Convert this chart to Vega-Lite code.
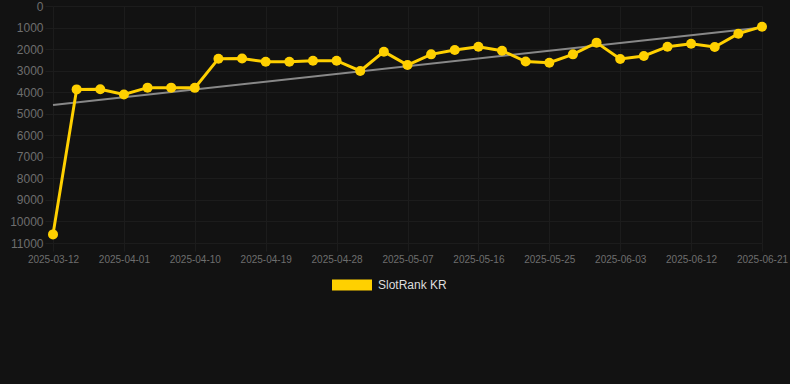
{
  "$schema": "https://vega.github.io/schema/vega-lite/v6.json",
  "autosize": {"type": "none"},
  "width": 709,
  "height": 237,
  "padding": {"left": 53, "top": 6, "right": 28, "bottom": 141},
  "background": "#121212",
  "config": {
    "view": {"stroke": null},
    "font": "Liberation Sans"
  },
  "datasets": {
    "main": [
      {"date": "2025-03-12", "rank": 10600, "series": "SlotRank KR"},
      {"date": "2025-03-26", "rank": 3870, "series": "SlotRank KR"},
      {"date": "2025-03-29", "rank": 3860, "series": "SlotRank KR"},
      {"date": "2025-04-01", "rank": 4110, "series": "SlotRank KR"},
      {"date": "2025-04-04", "rank": 3790, "series": "SlotRank KR"},
      {"date": "2025-04-07", "rank": 3790, "series": "SlotRank KR"},
      {"date": "2025-04-10", "rank": 3800, "series": "SlotRank KR"},
      {"date": "2025-04-13", "rank": 2445, "series": "SlotRank KR"},
      {"date": "2025-04-16", "rank": 2440, "series": "SlotRank KR"},
      {"date": "2025-04-19", "rank": 2585, "series": "SlotRank KR"},
      {"date": "2025-04-22", "rank": 2585, "series": "SlotRank KR"},
      {"date": "2025-04-25", "rank": 2540, "series": "SlotRank KR"},
      {"date": "2025-04-28", "rank": 2540, "series": "SlotRank KR"},
      {"date": "2025-05-01", "rank": 3015, "series": "SlotRank KR"},
      {"date": "2025-05-04", "rank": 2120, "series": "SlotRank KR"},
      {"date": "2025-05-07", "rank": 2740, "series": "SlotRank KR"},
      {"date": "2025-05-10", "rank": 2245, "series": "SlotRank KR"},
      {"date": "2025-05-13", "rank": 2040, "series": "SlotRank KR"},
      {"date": "2025-05-16", "rank": 1890, "series": "SlotRank KR"},
      {"date": "2025-05-19", "rank": 2075, "series": "SlotRank KR"},
      {"date": "2025-05-22", "rank": 2580, "series": "SlotRank KR"},
      {"date": "2025-05-25", "rank": 2630, "series": "SlotRank KR"},
      {"date": "2025-05-28", "rank": 2245, "series": "SlotRank KR"},
      {"date": "2025-05-31", "rank": 1700, "series": "SlotRank KR"},
      {"date": "2025-06-03", "rank": 2460, "series": "SlotRank KR"},
      {"date": "2025-06-06", "rank": 2320, "series": "SlotRank KR"},
      {"date": "2025-06-09", "rank": 1890, "series": "SlotRank KR"},
      {"date": "2025-06-12", "rank": 1750, "series": "SlotRank KR"},
      {"date": "2025-06-15", "rank": 1900, "series": "SlotRank KR"},
      {"date": "2025-06-18", "rank": 1285, "series": "SlotRank KR"},
      {"date": "2025-06-21", "rank": 960, "series": "SlotRank KR"}
    ],
    "trend": [
      {"date": "2025-03-12", "rank": 4590},
      {"date": "2025-06-21", "rank": 1000}
    ]
  },
  "encoding": {
    "x": {
      "field": "date",
      "type": "ordinal",
      "sort": null,
      "scale": {
        "type": "point",
        "padding": 0,
        "domain": ["2025-03-12", "2025-03-26", "2025-03-29", "2025-04-01", "2025-04-04", "2025-04-07", "2025-04-10", "2025-04-13", "2025-04-16", "2025-04-19", "2025-04-22", "2025-04-25", "2025-04-28", "2025-05-01", "2025-05-04", "2025-05-07", "2025-05-10", "2025-05-13", "2025-05-16", "2025-05-19", "2025-05-22", "2025-05-25", "2025-05-28", "2025-05-31", "2025-06-03", "2025-06-06", "2025-06-09", "2025-06-12", "2025-06-15", "2025-06-18", "2025-06-21"]
      },
      "axis": {
        "title": null,
        "values": ["2025-03-12", "2025-04-01", "2025-04-10", "2025-04-19", "2025-04-28", "2025-05-07", "2025-05-16", "2025-05-25", "2025-06-03", "2025-06-12", "2025-06-21"],
        "labelAngle": 0,
        "labelColor": "#6e6e6e",
        "labelFontSize": 10,
        "labelPadding": 3,
        "tickSize": 8,
        "tickColor": "#1c1c1c",
        "domain": false,
        "grid": true,
        "gridColor": "#1c1c1c",
        "labelFont": "Liberation Sans"
      }
    },
    "y": {
      "field": "rank",
      "type": "quantitative",
      "scale": {"domain": [0, 11000], "reverse": true, "nice": false, "zero": false},
      "axis": {
        "title": null,
        "values": [0, 1000, 2000, 3000, 4000, 5000, 6000, 7000, 8000, 9000, 10000, 11000],
        "format": "d",
        "labelColor": "#6e6e6e",
        "labelFontSize": 12,
        "labelPadding": 2,
        "tickSize": 8,
        "tickColor": "#1c1c1c",
        "domain": false,
        "grid": true,
        "gridColor": "#1c1c1c",
        "labelFont": "Liberation Sans"
      }
    }
  },
  "layer": [
    {
      "data": {"name": "trend"},
      "mark": {"type": "line", "color": "#888888", "strokeWidth": 2}
    },
    {
      "data": {"name": "main"},
      "mark": {"type": "line", "color": "#FFD000", "strokeWidth": 3}
    },
    {
      "data": {"name": "main"},
      "mark": {"type": "point", "filled": true, "opacity": 1, "size": 100},
      "encoding": {
        "color": {
          "field": "series",
          "type": "nominal",
          "scale": {"range": ["#FFD000"]},
          "legend": {
            "title": null,
            "orient": "none",
            "legendX": 279,
            "legendY": 259,
            "symbolType": "M-1,-0.275L1,-0.275L1,0.275L-1,0.275Z",
            "symbolSize": 1600,
            "symbolStrokeWidth": 0,
            "symbolOpacity": 1,
            "labelColor": "#dddddd",
            "labelFontSize": 12,
            "labelOffset": 6,
            "labelFont": "Liberation Sans",
            "padding": 0
          }
        }
      }
    }
  ]
}
